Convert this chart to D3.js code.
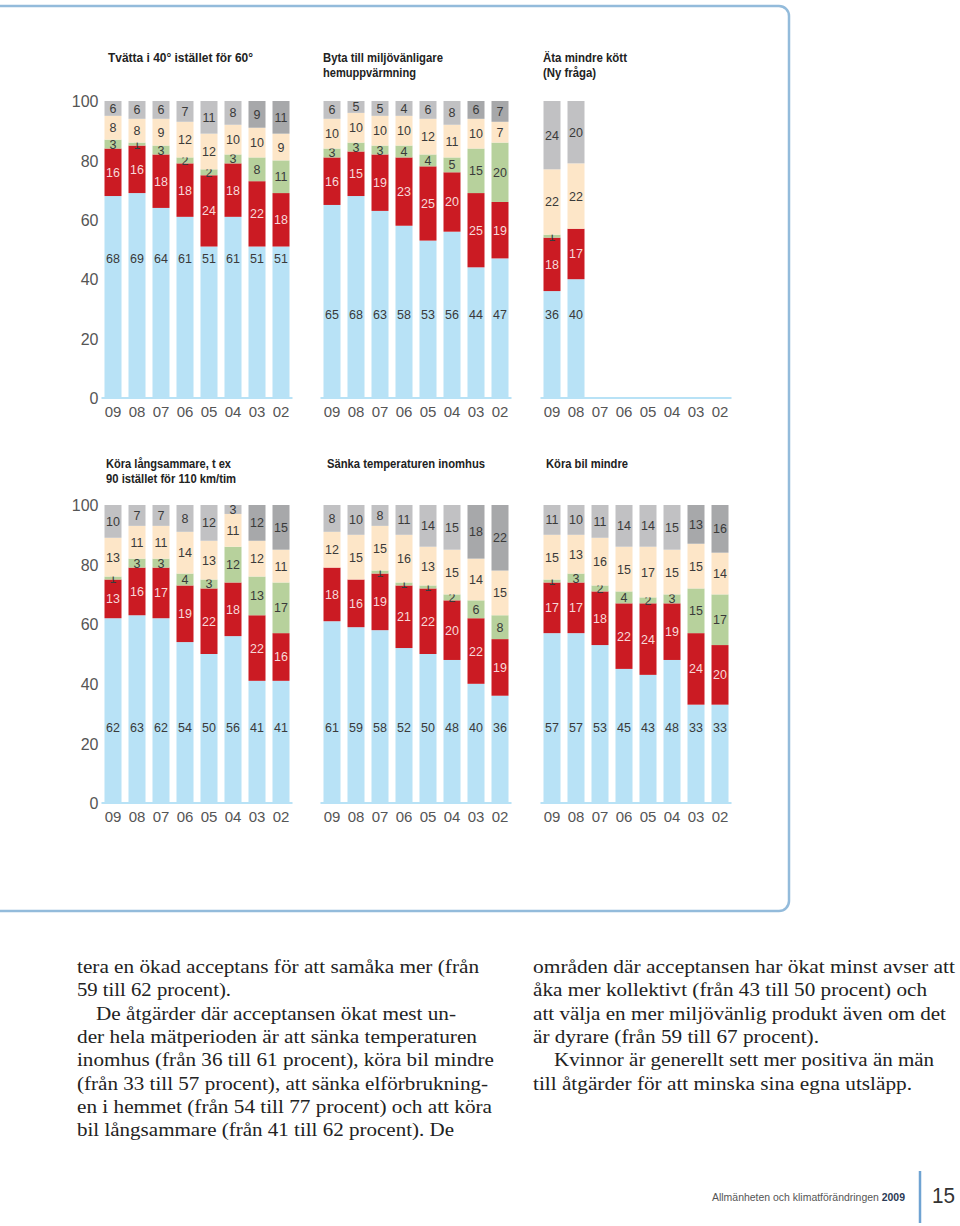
<!DOCTYPE html>
<html><head><meta charset="utf-8">
<script src="https://cdn.jsdelivr.net/npm/d3@7"></script>
<style>
html,body{margin:0;padding:0;background:#fff;}
svg{display:block;}
</style></head>
<body>
<svg id="c" width="960" height="1226"></svg>
<script>
// ---------- DATA ----------
const years = ["09","08","07","06","05","04","03","02"];
const yTicks = [0,20,40,60,80,100];
const seriesKeys = ["blue","red","green","beige","grey"];

// Tvätta i 40° istället för 60°
const tvattaBlue  = [68,69,64,61,51,61,51,51];
const tvattaRed   = [16,16,18,18,24,18,22,18];
const tvattaGreen = [3,1,3,2,2,3,8,11];
const tvattaBeige = [8,8,9,12,12,10,10,9];
const tvattaGrey  = [6,6,6,7,11,8,9,11];

// Byta till miljövänligare hemuppvärmning
const bytaBlue  = [65,68,63,58,53,56,44,47];
const bytaRed   = [16,15,19,23,25,20,25,19];
const bytaGreen = [3,3,3,4,4,5,15,20];
const bytaBeige = [10,10,10,10,12,11,10,7];
const bytaGrey  = [6,5,5,4,6,8,6,7];

// Äta mindre kött (Ny fråga)
const kottYears = ["09","08"];
const kottBlue  = [36,40];
const kottRed   = [18,17];
const kottGreen = [1,0];
const kottBeige = [22,22];
const kottGrey  = [24,20];

// Köra långsammare
const langBlue  = [62,63,62,54,50,56,41,41];
const langRed   = [13,16,17,19,22,18,22,16];
const langGreen = [1,3,3,4,3,12,13,17];
const langBeige = [13,11,11,14,13,11,12,11];
const langGrey  = [10,7,7,8,12,3,12,15];

// Sänka temperaturen inomhus
const tempBlue  = [61,59,58,52,50,48,40,36];
const tempRed   = [18,16,19,21,22,20,22,19];
const tempGreen = [0,0,1,1,1,2,6,8];
const tempBeige = [12,15,15,16,13,15,14,15];
const tempGrey  = [8,10,8,11,14,15,18,22];

// Köra bil mindre
const bilBlue  = [57,57,53,45,43,48,33,33];
const bilRed   = [17,17,18,22,24,19,24,20];
const bilGreen = [1,3,2,4,2,3,15,17];
const bilBeige = [15,13,16,15,17,15,15,14];
const bilGrey  = [11,10,11,14,14,15,13,16];

const titles = [
  ["Tvätta i 40° istället för 60°"],
  ["Byta till miljövänligare","hemuppvärmning"],
  ["Äta mindre kött","(Ny fråga)"],
  ["Köra långsammare, t ex","90 istället för 110 km/tim"],
  ["Sänka temperaturen inomhus"],
  ["Köra bil mindre"]
];

const bodyLeft = [
  "tera en ökad acceptans för att samåka mer (från",
  "59 till 62 procent).",
  "De åtgärder där acceptansen ökat mest un-",
  "der hela mätperioden är att sänka temperaturen",
  "inomhus (från 36 till 61 procent), köra bil mindre",
  "(från 33 till 57 procent), att sänka elförbrukning-",
  "en i hemmet (från 54 till 77 procent) och att köra",
  "bil långsammare (från 41 till 62 procent). De"
];
const bodyRight = [
  "områden där acceptansen har ökat minst avser att",
  "åka mer kollektivt (från 43 till 50 procent) och",
  "att välja en mer miljövänlig produkt även om det",
  "är dyrare (från 59 till 67 procent).",
  "Kvinnor är generellt sett mer positiva än män",
  "till åtgärder för att minska sina egna utsläpp."
];

// ---------- LAYOUT / STYLE ----------
const colors = {blue:"#b8e2f6", red:"#cb1b23", green:"#b7d19c", beige:"#fde6c8", grey:"#c1c1c3"};
const darkGrey = "#a7a8aa";
const darkGreyYears = ["03","02"];
const labelColor = {blue:"#3a3a3a", red:"#f7d9d9", green:"#3a3a3a", beige:"#3a3a3a", grey:"#3a3a3a"};
const colX = [104.5, 323.5, 543.5];
const rowTop = [101, 505];
const rowBase = [398, 803];
const titleX = [[108,323,543],[106,327,546]];
const titleY = [62, 468];
const titleWidths = [[145],[120,93],[84,53],[125,130],[158],[82]];
const blueLabelAt = [[47,28,28],[25.5,25.5,25.5]];
const sans = "'Liberation Sans',Arial,sans-serif";

const panels = [
  {years:years, vals:[tvattaBlue,tvattaRed,tvattaGreen,tvattaBeige,tvattaGrey]},
  {years:years, vals:[bytaBlue,bytaRed,bytaGreen,bytaBeige,bytaGrey]},
  {years:kottYears, vals:[kottBlue,kottRed,kottGreen,kottBeige,kottGrey]},
  {years:years, vals:[langBlue,langRed,langGreen,langBeige,langGrey]},
  {years:years, vals:[tempBlue,tempRed,tempGreen,tempBeige,tempGrey]},
  {years:years, vals:[bilBlue,bilRed,bilGreen,bilBeige,bilGrey]}
];

const svg = d3.select("#c");

// panel frame
svg.append("path")
  .attr("d", "M-5,6 H779 A10,10 0 0 1 789,16 V901 A10,10 0 0 1 779,911 H-5")
  .attr("fill","none").attr("stroke","#93bbdb").attr("stroke-width",2.5);

panels.forEach((p,i)=>{
  const row = Math.floor(i/3), col = i%3;
  const x0 = colX[col];
  const x = d3.scaleBand().domain(years).range([x0, x0+185]).paddingInner(7/24).paddingOuter(0);
  const y = d3.scaleLinear().domain([0,100]).range([rowBase[row], rowTop[row]]);
  const g = svg.append("g");

  // title
  titles[i].forEach((ln,k)=>{
    g.append("text").attr("x", titleX[row][col]).attr("y", titleY[row] + k*15)
      .attr("font-family", sans).attr("font-weight","bold").attr("font-size",12.5).attr("fill","#222")
      .attr("textLength", titleWidths[i][k]).attr("lengthAdjust","spacingAndGlyphs")
      .text(ln);
  });

  // data table
  const rows = p.years.map((yr,j)=>{
    const o = {year:yr};
    seriesKeys.forEach((k,s)=>o[k]=p.vals[s][j]);
    return o;
  });
  const stacked = d3.stack().keys(seriesKeys)(rows);
  const lo = d=>Math.min(d[0],100);
  const hi = (d,key)=> key==="grey" ? 100 : Math.min(d[1],100);

  stacked.forEach(layer=>{
    const key = layer.key;
    g.append("g").selectAll("rect").data(layer).join("rect")
      .attr("x", d=>x(d.data.year))
      .attr("width", x.bandwidth())
      .attr("y", d=>y(hi(d,key)))
      .attr("height", d=>Math.max(0, y(lo(d))-y(hi(d,key))))
      .attr("fill", d=> key==="grey" && darkGreyYears.includes(d.data.year) ? darkGrey : colors[key]);
    g.append("g").selectAll("text").data(layer.filter(d=>d.data[key]>0)).join("text")
      .attr("x", d=>x(d.data.year)+x.bandwidth()/2)
      .attr("y", d=> key==="blue" ? y(blueLabelAt[row][col]) : y((lo(d)+hi(d,key))/2))
      .attr("dy","0.36em")
      .attr("text-anchor","middle")
      .attr("font-family", sans).attr("font-size",12.5)
      .attr("fill", labelColor[key])
      .text(d=>d.data[key]);
  });

  // baseline
  g.append("line").attr("x1", x0-3).attr("x2", x0+185+3)
    .attr("y1", y(0)).attr("y2", y(0))
    .attr("stroke", colors.blue).attr("stroke-width",2);

  // x axis labels
  const xa = d3.axisBottom(x).tickSize(0).tickPadding(0);
  const ax = g.append("g").attr("transform", `translate(0,${y(0)+19})`).call(xa);
  ax.select(".domain").remove();
  ax.selectAll("text").attr("font-family", sans).attr("font-size",15).attr("fill","#555").attr("dy","0");

  // y axis labels
  if(col===0){
    const ya = d3.axisLeft(y).tickValues(yTicks).tickSize(0).tickPadding(0);
    const ay = g.append("g").attr("transform", `translate(98.5,0)`).call(ya);
    ay.select(".domain").remove();
    ay.selectAll("text").attr("font-family", sans).attr("font-size",16).attr("fill","#555").attr("dy","0.36em");
  }
});

// body text
const leftWidths = [402,154,360,400,417,411,415,377];
const rightWidths = [422,394,413,286,380,379];
const bodyFont = "'Liberation Serif','Times New Roman',serif";
function body(lines, x0, widths, indentIdx, indent){
  lines.forEach((ln,k)=>{
    const xx = x0 + (indentIdx.includes(k)?indent:0);
    svg.append("text").attr("x", xx).attr("y", 973 + k*23.3)
      .attr("font-family", bodyFont).attr("font-size",18.5).attr("fill","#222")
      .attr("textLength", widths[k]).attr("lengthAdjust","spacingAndGlyphs")
      .text(ln);
  });
}
body(bodyLeft, 77, leftWidths, [2], 19);
body(bodyRight, 533, rightWidths, [4], 21);

// footer
const ft = svg.append("text").attr("x", 712).attr("y", 1201)
  .attr("font-family", sans).attr("font-size",10.5).attr("fill","#555")
  .attr("textLength",193).attr("lengthAdjust","spacingAndGlyphs");
ft.append("tspan").text("Allmänheten och klimatförändringen ");
ft.append("tspan").attr("font-weight","bold").attr("fill","#2b3a55").text("2009");
svg.append("line").attr("x1",920).attr("x2",920).attr("y1",1171).attr("y2",1223)
  .attr("stroke","#6fa3d2").attr("stroke-width",2.5);
svg.append("text").attr("x",932).attr("y",1203)
  .attr("font-family", sans).attr("font-size",22).attr("fill","#333")
  .attr("textLength",23).attr("lengthAdjust","spacingAndGlyphs").text("15");
</script>
</body></html>
